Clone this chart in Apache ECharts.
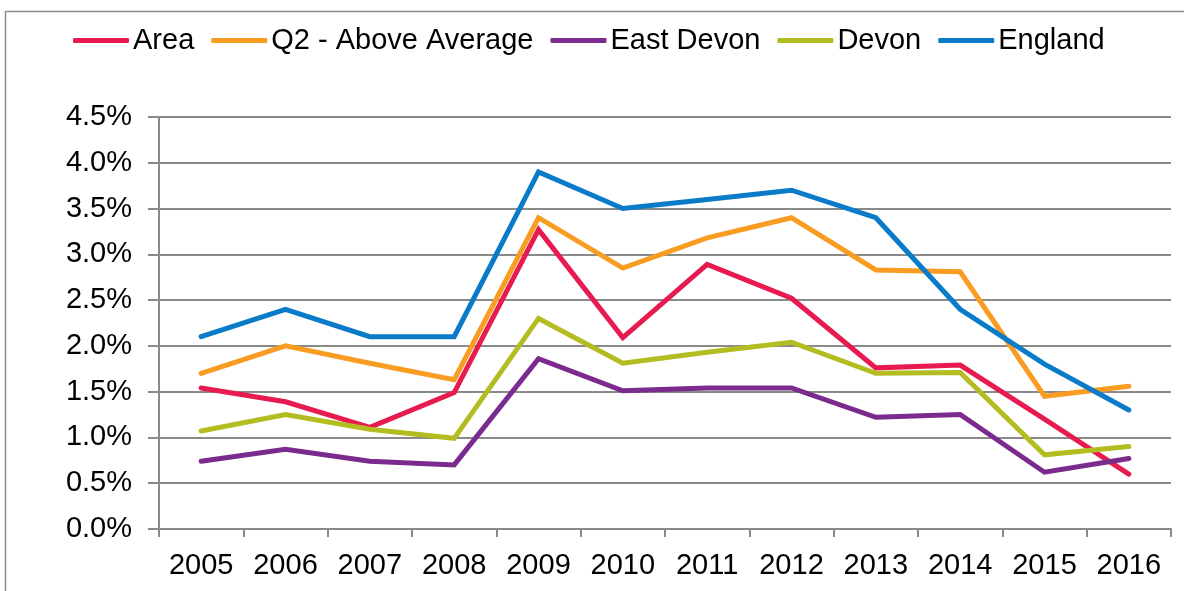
<!DOCTYPE html>
<html>
<head>
<meta charset="utf-8">
<script src="https://cdn.jsdelivr.net/npm/echarts@6/dist/echarts.min.js"></script>
<style>
html,body{margin:0;padding:0;background:#fff;}
#chart{width:1184px;height:591px;}
</style>
</head>
<body>
<div id="chart"></div>
<script>
const years = ['2005','2006','2007','2008','2009','2010','2011','2012','2013','2014','2015','2016'];
const area      = [1.54, 1.39, 1.11, 1.49, 3.27, 2.09, 2.89, 2.52, 1.76, 1.79, 1.20, 0.60];
const q2        = [1.70, 2.00, 1.81, 1.63, 3.40, 2.85, 3.18, 3.40, 2.83, 2.81, 1.45, 1.56];
const eastDevon = [0.74, 0.87, 0.74, 0.70, 1.86, 1.51, 1.54, 1.54, 1.22, 1.25, 0.62, 0.77];
const devon     = [1.07, 1.25, 1.09, 0.99, 2.30, 1.81, 1.93, 2.04, 1.70, 1.71, 0.81, 0.90];
const england   = [2.10, 2.40, 2.10, 2.10, 3.90, 3.50, 3.60, 3.70, 3.40, 2.40, 1.80, 1.30];
const seriesNames = ['Area','Q2 - Above Average','East Devon','Devon','England'];
const seriesData = [area, q2, eastDevon, devon, england];
const colors = ['#E81B50','#F89C22','#7B2A8E','#B3BD21','#0A7BC8'];

const font = '"Liberation Sans", Arial, sans-serif';
const chart = echarts.init(document.getElementById('chart'));
chart.setOption({
  animation: false,
  color: colors,
  graphic: [{
    type: 'rect',
    shape: {x: 5.5, y: 11.5, width: 1300, height: 700},
    style: {fill: 'none', stroke: '#8c8c8c', lineWidth: 1.5},
    silent: true
  }],
  legend: {
    top: 21,
    left: 68,
    icon: 'roundRect',
    itemWidth: 56,
    itemHeight: 5,
    itemGap: 17,
    textStyle: {fontFamily: font, fontSize: 29, color: '#000', padding: [0,0,0,-1]},
    data: seriesNames
  },
  grid: {left: 159, right: 13, top: 117, bottom: 62},
  xAxis: {
    type: 'category',
    data: years,
    boundaryGap: true,
    axisLine: {lineStyle: {color: '#8a8a8a', width: 2}},
    axisTick: {show: true, length: 8, lineStyle: {color: '#8a8a8a', width: 2}},
    axisLabel: {fontFamily: font, fontSize: 29, color: '#000', margin: 22, interval: 0}
  },
  yAxis: {
    type: 'value',
    min: 0, max: 4.5, interval: 0.5,
    axisLine: {show: true, lineStyle: {color: '#8a8a8a', width: 2}},
    axisTick: {show: true, length: 11, lineStyle: {color: '#8a8a8a', width: 2}},
    axisLabel: {fontFamily: font, fontSize: 29, color: '#000', margin: 27,
      formatter: v => v.toFixed(1) + '%'},
    splitLine: {show: true, lineStyle: {color: '#8a8a8a', width: 2}}
  },
  series: seriesNames.map((n, i) => ({
    name: n,
    type: 'line',
    data: seriesData[i],
    symbol: 'none',
    lineStyle: {width: 5, color: colors[i], cap: 'round', join: 'miter'},
    itemStyle: {color: colors[i]}
  }))
});
</script>
</body>
</html>
